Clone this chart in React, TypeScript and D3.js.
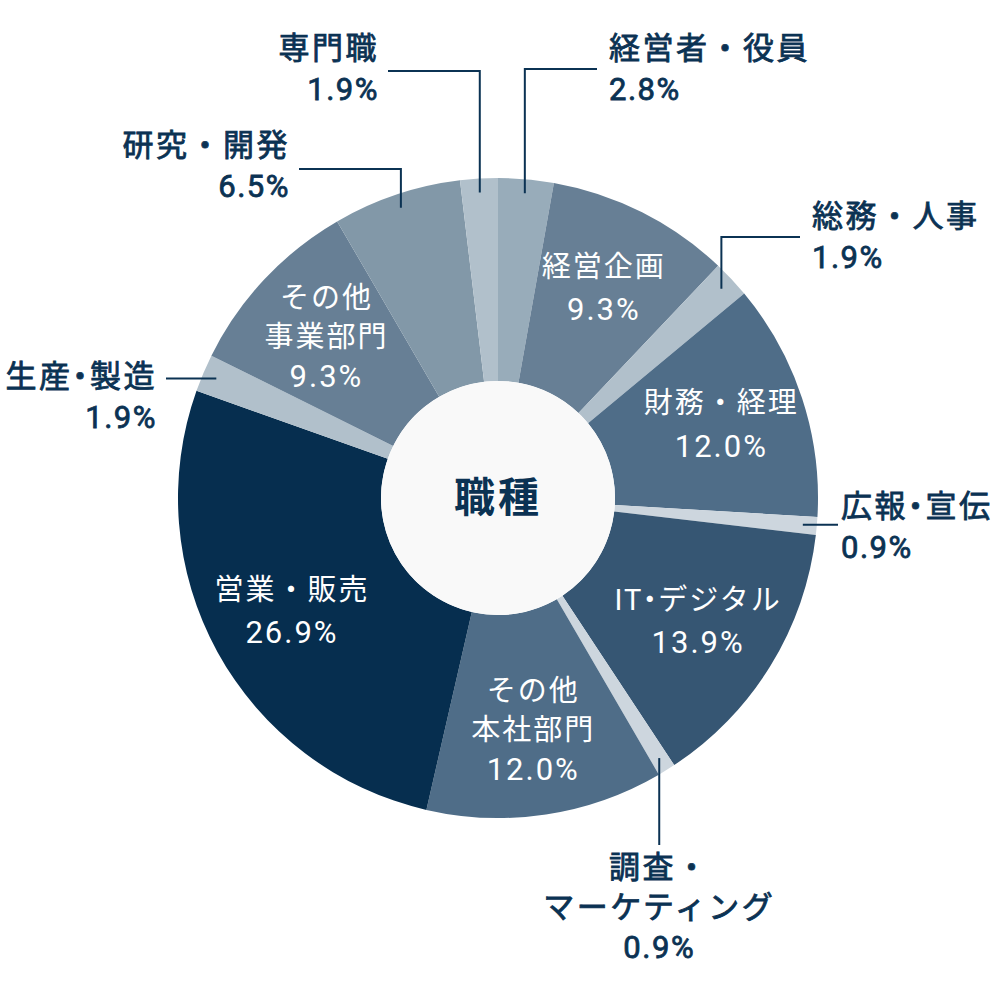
import * as d3 from "d3";

// 職種の構成比 (%), 12時の位置から時計回り
const categories = [
  "経営者・役員", "経営企画", "総務・人事", "財務・経理", "広報・宣伝", "IT・デジタル",
  "調査・マーケティング", "その他本社部門", "営業・販売", "生産・製造", "その他事業部門",
  "研究・開発", "専門職",
];
const shares = [2.8, 9.3, 1.9, 12.0, 0.9, 13.9, 0.9, 12.0, 26.9, 1.9, 9.3, 6.5, 1.9];
const displayLines = [
  ["経営者・役員"], ["経営企画"], ["総務・人事"], ["財務・経理"], ["広報・宣伝"], ["IT・デジタル"],
  ["調査・", "マーケティング"], ["その他", "本社部門"], ["営業・販売"], ["生産・製造"], ["その他", "事業部門"],
  ["研究・開発"], ["専門職"],
];
const insideLabels = ["経営企画", "財務・経理", "IT・デジタル", "その他本社部門", "営業・販売", "その他事業部門"];
// labels set with a narrow middle dot in the original
const tightDot = ["広報・宣伝", "生産・製造", "IT・デジタル"];
const sliceColors = [
  "#98acba", "#677f95", "#b1c0cb", "#4f6d88", "#cdd6de", "#365673",
  "#cdd6de", "#4f6d88", "#062e4f", "#b1c0cb", "#677f95", "#8298a8", "#b1c0cb",
];
const centerTitle = "職種";

// leader layout for the small slices
type Callout = { elbowY?: number; endX?: number; endY?: number; anchor: "start" | "end" | "middle"; shift?: number };
const callouts: Record<string, Callout> = {
  "経営者・役員": { elbowY: 69, endX: 597, anchor: "start" },
  "総務・人事": { elbowY: 237, endX: 800, anchor: "start" },
  "広報・宣伝": { endX: 838, anchor: "start", shift: 2 },
  "調査・マーケティング": { endY: 845, anchor: "middle" },
  "生産・製造": { endX: 166, anchor: "end", shift: 19 },
  "研究・開発": { elbowY: 169, endX: 299, anchor: "end", shift: -3 },
  "専門職": { elbowY: 71, endX: 388, anchor: "end", shift: -2 },
};

const W = 996, H = 996;
const CX = 498, CY = 498;
const R_OUT = 320, R_IN = 117;
const NAVY = "#0b3253";
const FONT = "Roboto, 'Noto Sans CJK JP', sans-serif";

function Line({ text, x, y, tight }: { text: string; x: number; y: number; tight: boolean }) {
  if (!tight || !text.includes("・")) {
    return <tspan x={x} y={y} dominantBaseline="central">{text}</tspan>;
  }
  const [a, b] = text.split("・");
  return (
    <>
      <tspan x={x} y={y} dominantBaseline="central">{a}</tspan>
      <tspan dx={-8} dominantBaseline="central">・</tspan>
      <tspan dx={-8} dominantBaseline="central">{b}</tspan>
    </>
  );
}

export default function App() {
  const data = categories.map((c, i) => ({ cat: c, value: shares[i], lines: displayLines[i], color: sliceColors[i] }));
  type D = typeof data[number];
  const pie = d3.pie<D>().value(d => d.value).sort(null);
  const arcs = pie(data);
  const arc = d3.arc<d3.PieArcDatum<D>>().innerRadius(R_IN).outerRadius(R_OUT);
  const labelArc = d3.arc<d3.PieArcDatum<D>>().innerRadius(235).outerRadius(235);
  const pt = (a: number, r: number) => [CX + r * Math.sin(a), CY - r * Math.cos(a)];
  const isNum = (t: string) => /%$/.test(t);

  return (
    <svg width={W} height={H} style={{ position: "absolute", left: 0, top: 0, background: "#fff" }}
      fontFamily={FONT}>
      <g transform={`translate(${CX},${CY})`}>
        {arcs.map(a => (
          <path key={a.data.cat} d={arc(a) ?? ""} fill={a.data.color} />
        ))}
      </g>
      <circle cx={CX} cy={CY} r={R_IN} fill="#f9f9f9" />
      <text x={CX} y={CY} textAnchor="middle" dominantBaseline="central" fontSize={41}
        fontWeight={700} fill={NAVY} letterSpacing={3}>{centerTitle}</text>

      {/* inside labels */}
      {arcs.filter(a => insideLabels.includes(a.data.cat)).map(a => {
        const [lx, ly] = labelArc.centroid(a);
        const lines = [...a.data.lines, `${a.data.value.toFixed(1)}%`];
        const lh = lines.length > 2 ? 39 : 43;
        return (
          <g key={a.data.cat}>
            {lines.map((t, i) => (
              <text key={i} textAnchor="middle" fill="#fff"
                fontSize={isNum(t) ? 31 : 29} letterSpacing={isNum(t) ? 2 : 2}>
                <Line text={t} x={CX + lx} y={CY + ly + (i - (lines.length - 1) / 2) * lh}
                  tight={tightDot.includes(a.data.cat)} />
              </text>
            ))}
          </g>
        );
      })}

      {/* outside labels with leaders */}
      {arcs.filter(a => !insideLabels.includes(a.data.cat)).map(a => {
        const c = callouts[a.data.cat];
        const mid = (a.startAngle + a.endAngle) / 2;
        const [x0, y0] = pt(mid, 306);
        const lines = [...a.data.lines, `${a.data.value.toFixed(1)}%`];
        let d: string, tx: number, ty0: number;
        if (c.endY !== undefined) {
          d = `M${x0},${y0}V${c.endY}`;
          tx = x0;
          ty0 = c.endY + 22;
        } else if (c.elbowY !== undefined) {
          d = `M${x0},${y0}V${c.elbowY}H${c.endX}`;
          tx = c.endX! + (c.anchor === "start" ? 12 : -9);
          ty0 = c.elbowY + (c.shift ?? 0) - 20.5;
        } else {
          d = `M${x0},${y0}H${c.endX}`;
          tx = c.endX! + (c.anchor === "start" ? 3 : -9);
          ty0 = y0 + (c.shift ?? 0) - 20.5;
        }
        const lh = c.endY !== undefined ? 40 : 41;
        return (
          <g key={a.data.cat}>
            <path d={d} fill="none" stroke={NAVY} strokeWidth={2} />
            {lines.map((t, i) => (
              <text key={i} textAnchor={c.anchor} fontSize={31} fill={NAVY}
                stroke={NAVY} strokeWidth={0.8} letterSpacing={isNum(t) ? 1.5 : 2.5}>
                <Line text={t} x={tx} y={ty0 + i * lh} tight={tightDot.includes(a.data.cat)} />
              </text>
            ))}
          </g>
        );
      })}
    </svg>
  );
}
